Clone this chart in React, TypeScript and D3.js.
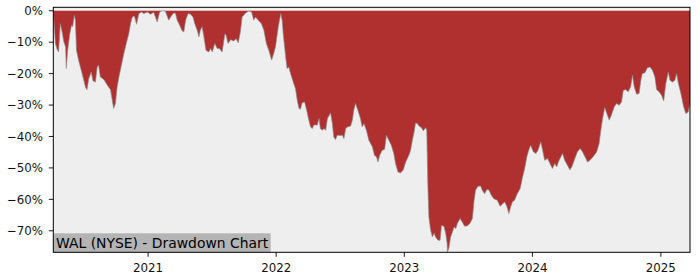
import React from "react";
import * as d3 from "d3";

const dates: string[] = [
"2020-04-06","2020-04-07","2020-04-12","2020-04-17","2020-04-21","2020-04-26","2020-05-01","2020-05-06","2020-05-11","2020-05-13",
"2020-05-17","2020-05-23","2020-05-28","2020-05-31","2020-06-05","2020-06-08","2020-06-11","2020-06-17","2020-06-27","2020-07-07",
"2020-07-11","2020-07-16","2020-07-23","2020-07-28","2020-08-04","2020-08-09","2020-08-13","2020-08-18","2020-08-28","2020-09-07",
"2020-09-16","2020-09-21","2020-09-25","2020-09-30","2020-10-05","2020-10-10","2020-10-16","2020-10-24","2020-10-31","2020-11-07",
"2020-11-12","2020-11-17","2020-11-23","2020-11-29","2020-12-06","2020-12-13","2020-12-20","2020-12-30","2021-01-08","2021-01-17",
"2021-01-27","2021-02-03","2021-02-10","2021-02-19","2021-03-01","2021-03-08","2021-03-15","2021-03-20","2021-03-25","2021-03-30",
"2021-04-08","2021-04-13","2021-04-18","2021-04-25","2021-05-02","2021-05-09","2021-05-14","2021-05-21","2021-05-26","2021-05-30",
"2021-06-04","2021-06-09","2021-06-15","2021-06-23","2021-06-28","2021-07-03","2021-07-10","2021-07-17","2021-07-23","2021-07-31",
"2021-08-08","2021-08-11","2021-08-17","2021-08-24","2021-09-02","2021-09-09","2021-09-15","2021-09-21","2021-09-26","2021-10-06",
"2021-10-15","2021-10-23","2021-10-29","2021-11-03","2021-11-11","2021-11-20","2021-11-27","2021-12-04","2021-12-11","2021-12-19",
"2021-12-25","2021-12-30","2022-01-07","2022-01-14","2022-01-18","2022-01-21","2022-01-28","2022-02-01","2022-02-06","2022-02-11",
"2022-02-20","2022-02-25","2022-03-02","2022-03-07","2022-03-11","2022-03-16","2022-03-23","2022-03-29","2022-04-04","2022-04-09",
"2022-04-14","2022-04-18","2022-04-23","2022-04-28","2022-05-03","2022-05-07","2022-05-12","2022-05-17","2022-05-22","2022-05-27",
"2022-06-05","2022-06-10","2022-06-14","2022-06-19","2022-06-24","2022-07-02","2022-07-09","2022-07-13","2022-07-18","2022-07-23",
"2022-08-01","2022-08-06","2022-08-10","2022-08-15","2022-08-22","2022-08-29","2022-09-03","2022-09-08","2022-09-15","2022-09-22",
"2022-10-02","2022-10-08","2022-10-14","2022-10-18","2022-10-23","2022-10-30","2022-11-06","2022-11-11","2022-11-18","2022-11-25",
"2022-12-02","2022-12-07","2022-12-14","2022-12-21","2022-12-29","2023-01-05","2023-01-14","2023-01-19","2023-01-24","2023-01-29",
"2023-02-02","2023-02-07","2023-02-12","2023-02-19","2023-02-24","2023-03-03","2023-03-06","2023-03-09","2023-03-12","2023-03-17",
"2023-03-22","2023-03-27","2023-03-31","2023-04-07","2023-04-13","2023-04-17","2023-04-24","2023-04-29","2023-05-03","2023-05-04",
"2023-05-08","2023-05-13","2023-05-18","2023-05-23","2023-05-28","2023-06-01","2023-06-09","2023-06-15","2023-06-22","2023-06-30",
"2023-07-07","2023-07-14","2023-07-19","2023-07-23","2023-07-30","2023-08-07","2023-08-11","2023-08-18","2023-08-24","2023-08-30",
"2023-09-06","2023-09-13","2023-09-23","2023-10-01","2023-10-07","2023-10-14","2023-10-20","2023-10-26","2023-10-31","2023-11-05",
"2023-11-11","2023-11-19","2023-11-27","2023-12-04","2023-12-10","2023-12-16","2023-12-22","2023-12-27","2024-01-04","2024-01-11",
"2024-01-17","2024-01-25","2024-01-30","2024-02-05","2024-02-13","2024-02-20","2024-02-27","2024-03-05","2024-03-10","2024-03-17",
"2024-03-27","2024-04-02","2024-04-10","2024-04-17","2024-04-24","2024-05-01","2024-05-08","2024-05-16","2024-05-23","2024-05-29",
"2024-06-06","2024-06-13","2024-06-23","2024-07-02","2024-07-09","2024-07-14","2024-07-19","2024-07-25","2024-07-31","2024-08-07",
"2024-08-13","2024-08-21","2024-08-28","2024-09-04","2024-09-11","2024-09-16","2024-09-23","2024-09-30","2024-10-07","2024-10-12",
"2024-10-17","2024-10-24","2024-10-31","2024-11-05","2024-11-09","2024-11-16","2024-11-24","2024-12-01","2024-12-08","2024-12-15",
"2024-12-20","2024-12-27","2025-01-03","2025-01-09","2025-01-15","2025-01-22","2025-01-27","2025-02-03","2025-02-10","2025-02-15",
"2025-02-19","2025-02-27","2025-03-07","2025-03-13","2025-03-20","2025-03-25"
];

const drawdown: number[] = [
0,-2,-10.4,-12.3,-13.1,-4.1,-6.7,-9.9,-11.5,-18.4,
-12.6,-7.3,-4.6,-5.1,-1.4,-3.0,-12.6,-15.7,-20,-24.4,
-25.1,-21.6,-19.5,-22.3,-22.7,-17.9,-17.3,-21.1,-21.9,-23.7,
-25.1,-28.5,-31.1,-29.5,-24.2,-21.1,-17.9,-13.6,-10.4,-7.3,
-4.1,-2.0,-1.7,-4.3,-0.9,-0.4,-0.9,-0.4,-1.1,-0.5,
-3.6,-0.4,0,-0.1,-3.0,-1.7,-0.7,-0.8,-3.0,-4.1,
-6.4,-6.7,-3.0,-0.9,-1.1,-2.0,-4.1,-6.2,-8.3,-6.2,
-5.1,-8.3,-12.6,-13.1,-12,-13.1,-10.4,-12,-12,-13.1,
-7.3,-7.8,-10.4,-9.2,-9.6,-8.9,-10.2,-6.7,-2.0,-0.7,
-0.1,-0.4,-3.0,-2.0,-3.0,-4.1,-6.2,-10.4,-12.6,-15.7,
-13.6,-11.5,-5.1,-0.9,-3.0,-7.3,-14.7,-18.4,-17.9,-20,
-23.2,-24.8,-28.5,-31.1,-31.3,-29.3,-29,-31.7,-34.8,-37,
-37.5,-36.4,-36.3,-36.4,-34.3,-37.5,-38,-37.5,-38,-34.3,
-32.5,-35.9,-40.2,-41,-39.6,-39.7,-39.6,-40.7,-37.5,-37,
-36.7,-34.8,-31.7,-29.5,-31.7,-34.3,-37,-35.9,-38,-41.2,
-43.3,-46,-46.5,-48.1,-46,-44.4,-44.1,-39.6,-41.2,-42.8,
-45.4,-48.6,-51.3,-51.6,-50.7,-48.1,-46,-44.4,-41.2,-38.6,
-35.7,-35.9,-36.7,-37.2,-38.2,-37.2,-38,-55,-65.6,-69.8,
-72,-70.7,-72,-73,-73,-68.3,-68.6,-70.9,-74,-76.8,
-75.5,-72,-70.4,-68.8,-69.3,-67.7,-66.1,-67.2,-68.6,-68.4,
-67.7,-66.1,-60.3,-57.1,-55.8,-55.8,-57.1,-58.2,-56.9,-57,
-58.7,-59.8,-60.3,-62.2,-61.6,-60.8,-62.2,-64.5,-62.4,-60.8,
-60.3,-58.2,-56.6,-52.9,-50.2,-46.5,-44.2,-42.8,-44.9,-45.4,
-44.4,-41.7,-44.4,-47.6,-47,-48.6,-50.2,-48.6,-49.7,-47.6,
-45.4,-47.6,-49.2,-50.7,-49.2,-47,-44.9,-43.8,-44.9,-46.3,
-48.1,-47.6,-46.3,-44.9,-42.3,-38,-34.3,-30.8,-32.7,-34.8,
-33.2,-30.6,-29.5,-30.1,-29,-25.3,-25.1,-25.8,-24.2,-20.5,
-24.2,-26.6,-26.3,-22.1,-20,-19.8,-18.1,-17.9,-18.9,-21.1,
-25.1,-25.8,-26.9,-28.7,-23.2,-19.5,-22.1,-22.7,-22.1,-20,
-22.7,-26.3,-30.6,-32.7,-32.2,-29.5
];

const yTicks: number[] = [0, -10, -20, -30, -40, -50, -60, -70];
const xTickYears: number[] = [2021, 2022, 2023, 2024, 2025];
const title = "WAL (NYSE) - Drawdown Chart";

const W = 700, H = 280;
const L = 53.3, R = 690, T = 7.3, B = 252.3;

export default function App() {
  const parse = d3.timeParse("%Y-%m-%d");
  const data = dates.map((d, i) => ({ date: parse(d) as Date, v: drawdown[i] }));
  const x = d3.scaleTime()
    .domain(d3.extent(data, (d) => d.date) as [Date, Date])
    .range([L, R]);
  const y = d3.scaleLinear().domain([-76.85, 1.1]).range([B, T]);

  const area = d3.area<{ date: Date; v: number }>()
    .x((d) => x(d.date))
    .y0(y(0))
    .y1((d) => y(d.v));
  const line = d3.line<{ date: Date; v: number }>()
    .x((d) => x(d.date))
    .y((d) => y(d.v));

  const fmt = (v: number) => (v < 0 ? "\u2212" + Math.abs(v) : String(v)) + "%";
  const font = "'DejaVu Sans', sans-serif";

  return (
    <svg width={W} height={H} style={{ position: "absolute", left: 0, top: 0 }} fontFamily={font}>
      <rect x={0} y={0} width={W} height={H} fill="#ffffff" />
      <rect x={L} y={T} width={R - L} height={B - T} fill="#eeeeee" />
      <path d={area(data) || ""} fill="#b03030" />
      <path d={line(data) || ""} fill="none" stroke="#8a8a8a" strokeWidth={0.8} strokeOpacity={0.8} />
      <rect x={L} y={233.3} width={270.7 - L} height={B - 233.3} fill="#b4b4b4" />
      <text x={56} y={247.5} fontSize={13.9} fill="#000">{title}</text>
      <rect x={L} y={T} width={R - L} height={B - T} fill="none" stroke="#000" strokeWidth={1} />
      {yTicks.map((t) => (
        <g key={t}>
          <line x1={L - 4.5} x2={L} y1={y(t)} y2={y(t)} stroke="#000" strokeWidth={0.9} />
          <text x={L - 10.3} y={y(t)} dy="0.36em" textAnchor="end" fontSize={11.8} fill="#111">{fmt(t)}</text>
        </g>
      ))}
      {xTickYears.map((yr) => {
        const xx = x(new Date(yr, 0, 1));
        return (
          <g key={yr}>
            <line x1={xx} x2={xx} y1={B} y2={B + 4.5} stroke="#000" strokeWidth={0.9} />
            <text x={xx} y={B + 19.2} textAnchor="middle" fontSize={11.8} fill="#111">{yr}</text>
          </g>
        );
      })}
    </svg>
  );
}
